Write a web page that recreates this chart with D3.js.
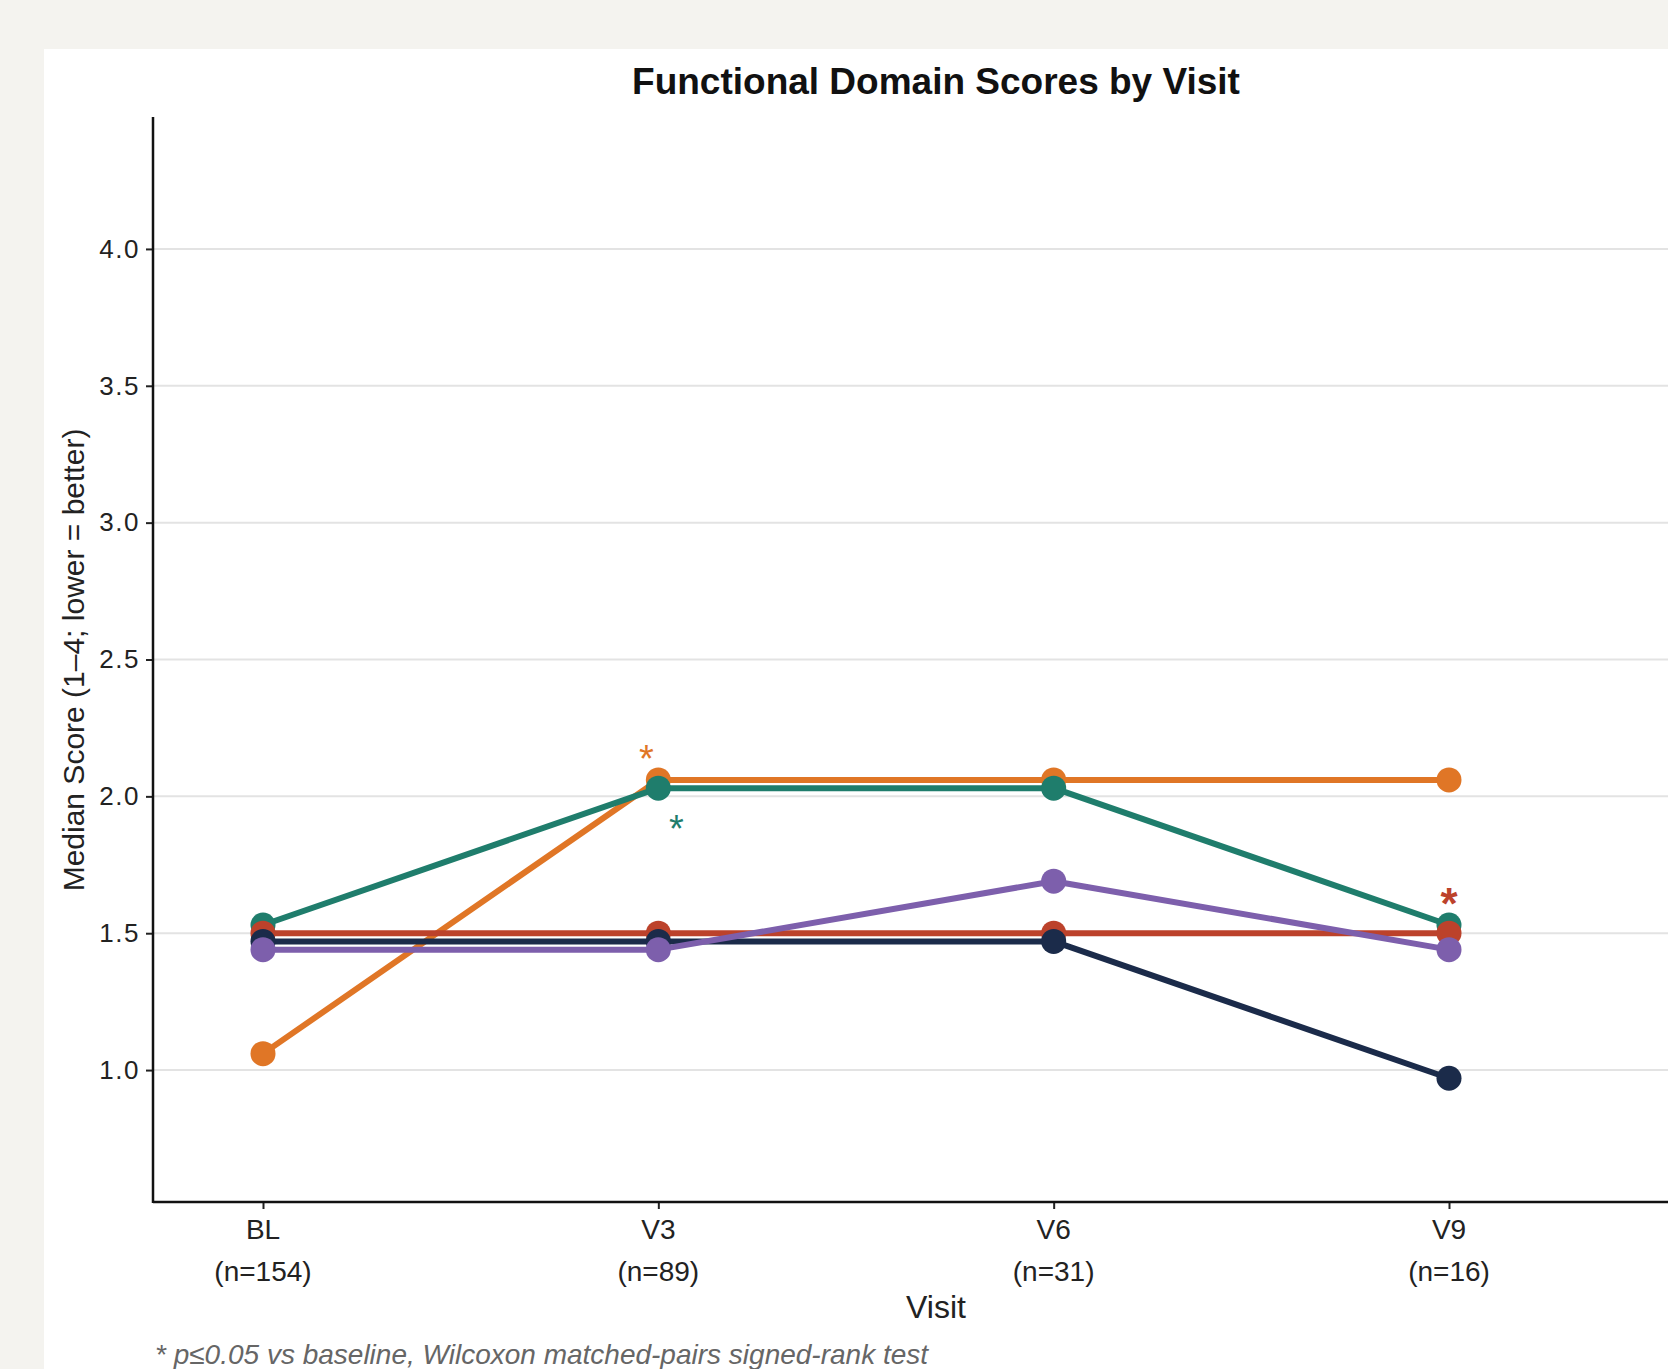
<!DOCTYPE html>
<html>
<head>
<meta charset="utf-8">
<script src="https://cdn.jsdelivr.net/npm/d3@7"></script>
<style>
  html, body { margin: 0; padding: 0; background: #f4f3ef; }
  svg { display: block; }
</style>
</head>
<body>
<svg id="chart" width="1668" height="1369"></svg>
<script>
// Visits and sample sizes
const visits = ["BL", "V3", "V6", "V9"];
const visitN = ["(n=154)", "(n=89)", "(n=31)", "(n=16)"];

// Median domain scores per visit (drawn bottom to top)
const orangeScores = [1.06, 2.06, 2.06, 2.06];
const tealScores   = [1.53, 2.03, 2.03, 1.53];
const redScores    = [1.50, 1.50, 1.50, 1.50];
const navyScores   = [1.47, 1.47, 1.47, 0.97];
const purpleScores = [1.44, 1.44, 1.69, 1.44];

const yTicks = [1.0, 1.5, 2.0, 2.5, 3.0, 3.5, 4.0];

// Visits flagged as significant vs baseline, per series
const orangeSig = [1];
const tealSig = [1];
const redSig = [3];

const series = [
  { name: "orange", color: "#e07626", values: orangeScores },
  { name: "teal",   color: "#1f7d6c", values: tealScores },
  { name: "red",    color: "#bc422b", values: redScores },
  { name: "navy",   color: "#1b2b4a", values: navyScores },
  { name: "purple", color: "#7d5fac", values: purpleScores }
];

const svg = d3.select("#chart");
const W = 1668, H = 1369;
const labelFont = "Liberation Sans, Arial, sans-serif";

// white panel
svg.append("rect").attr("x", 44).attr("y", 49).attr("width", W - 44).attr("height", H - 49).attr("fill", "#ffffff");

const plotLeft = 153, plotTop = 117, plotBottom = 1202, plotRight = W;

const x = d3.scalePoint().domain(visits).range([263, 1449]);
const y = d3.scaleLinear().domain([0.518, 4.482]).range([plotBottom, plotTop]);

// gridlines
svg.append("g").selectAll("line").data(yTicks).join("line")
  .attr("x1", plotLeft).attr("x2", plotRight)
  .attr("y1", d => y(d)).attr("y2", d => y(d))
  .attr("stroke", "#e3e3e3").attr("stroke-width", 2);

// y axis
const yAxis = svg.append("g").attr("transform", `translate(${plotLeft},0)`)
  .call(d3.axisLeft(y).tickValues(yTicks).tickFormat(d3.format(".1f")).tickSize(7).tickPadding(6));
yAxis.select(".domain").remove();
yAxis.selectAll(".tick line").attr("stroke", "#222").attr("stroke-width", 2);
yAxis.selectAll(".tick text").attr("font-family", labelFont)
  .attr("font-size", 26).attr("letter-spacing", 1.5).attr("fill", "#222");
svg.append("line").attr("x1", plotLeft).attr("x2", plotLeft).attr("y1", plotTop).attr("y2", plotBottom + 1)
  .attr("stroke", "#111").attr("stroke-width", 2.5);

// x axis
const xAxis = svg.append("g").attr("transform", `translate(0,${plotBottom})`)
  .call(d3.axisBottom(x).tickSize(7));
xAxis.select(".domain").remove();
xAxis.selectAll(".tick line").attr("stroke", "#222").attr("stroke-width", 2);
xAxis.selectAll(".tick text").remove();
svg.append("line").attr("x1", plotLeft).attr("x2", plotRight).attr("y1", plotBottom).attr("y2", plotBottom)
  .attr("stroke", "#111").attr("stroke-width", 2.5);

// two-line visit labels
const xl = svg.append("g");
xl.selectAll("text.v").data(visits).join("text").attr("class", "v")
  .attr("x", d => x(d)).attr("y", 1239).attr("text-anchor", "middle")
  .attr("font-family", labelFont).attr("font-size", 28).attr("fill", "#222").text(d => d);
xl.selectAll("text.n").data(visits).join("text").attr("class", "n")
  .attr("x", d => x(d)).attr("y", 1281).attr("text-anchor", "middle")
  .attr("font-family", labelFont).attr("font-size", 28).attr("fill", "#222")
  .text((d, i) => visitN[i]);

// lines and points
const line = d3.line().x((d, i) => x(visits[i])).y(d => y(d));
series.forEach(s => {
  const g = svg.append("g");
  g.append("path").datum(s.values).attr("d", line)
    .attr("fill", "none").attr("stroke", s.color).attr("stroke-width", 6)
    .attr("stroke-linejoin", "round");
  g.selectAll("circle").data(s.values).join("circle")
    .attr("cx", (d, i) => x(visits[i])).attr("cy", d => y(d)).attr("r", 12.5)
    .attr("fill", s.color);
});

// significance asterisks
svg.selectAll("text.sig-o").data(orangeSig).join("text").attr("class", "sig-o")
  .attr("x", i => x(visits[i]) - 12).attr("y", i => y(orangeScores[i]) - 8)
  .attr("text-anchor", "middle").attr("font-family", labelFont).attr("font-size", 38)
  .attr("fill", "#e07626").text("*");
svg.selectAll("text.sig-t").data(tealSig).join("text").attr("class", "sig-t")
  .attr("x", i => x(visits[i]) + 18).attr("y", i => y(tealScores[i]) + 54)
  .attr("text-anchor", "middle").attr("font-family", labelFont).attr("font-size", 38)
  .attr("fill", "#1f7d6c").text("*");
svg.selectAll("text.sig-r").data(redSig).join("text").attr("class", "sig-r")
  .attr("x", i => x(visits[i])).attr("y", i => y(redScores[i]) - 14)
  .attr("text-anchor", "middle").attr("font-family", labelFont).attr("font-size", 44)
  .attr("font-weight", "bold").attr("fill", "#bc422b").text("*");

// title
svg.append("text").attr("x", 936).attr("y", 94).attr("text-anchor", "middle")
  .attr("font-family", labelFont).attr("font-weight", "bold").attr("font-size", 37)
  .attr("fill", "#111").text("Functional Domain Scores by Visit");

// axis titles
svg.append("text").attr("transform", `translate(84,660) rotate(-90)`)
  .attr("text-anchor", "middle").attr("font-family", labelFont).attr("font-size", 30)
  .attr("fill", "#222").text("Median Score (1\u20134; lower = better)");
svg.append("text").attr("x", 936).attr("y", 1318).attr("text-anchor", "middle")
  .attr("font-family", labelFont).attr("font-size", 32).attr("fill", "#222").text("Visit");

// footnote
svg.append("text").attr("x", 155).attr("y", 1364)
  .attr("font-family", labelFont).attr("font-style", "italic").attr("font-size", 28)
  .attr("fill", "#666").text("* p\u22640.05 vs baseline, Wilcoxon matched-pairs signed-rank test");
</script>
</body>
</html>
